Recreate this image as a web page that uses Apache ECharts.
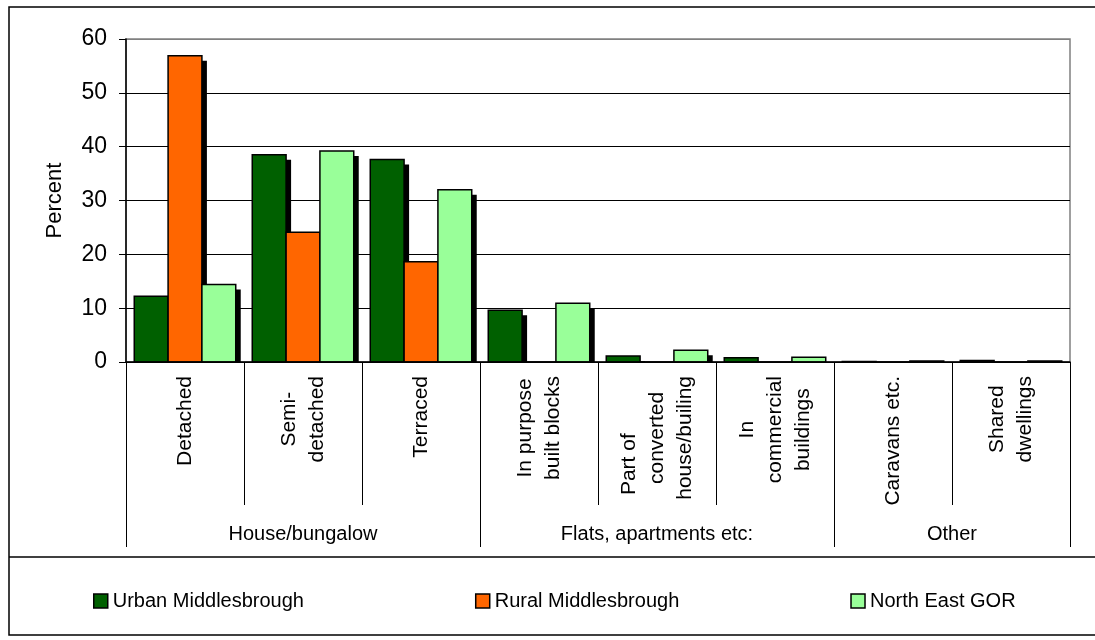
<!DOCTYPE html>
<html>
<head>
<meta charset="utf-8">
<script src="https://cdn.jsdelivr.net/npm/echarts@6/dist/echarts.min.js"></script>
<style>
html,body{margin:0;padding:0;background:#fff;}
#chart{width:1095px;height:640px;}
</style>
</head>
<body>
<div id="chart"></div>
<script>
// ---- data ----
const categories = ['Detached', 'Semi-\ndetached', 'Terraced', 'In purpose\nbuilt blocks',
  'Part of         \nconverted\nhouse/builing', 'In\ncommercial\nbuildings', 'Caravans etc.', 'Shared\ndwellings'];
const groupLabels = ['House/bungalow', 'Flats, apartments etc:', 'Other'];
const groupSpans = [3, 3, 2];
const seriesNames = ['Urban Middlesbrough', 'Rural Middlesbrough', 'North East GOR'];
const urbanValues = [12.2, 38.5, 37.6, 9.6, 1.1, 0.8, 0.1, 0.3];
const ruralValues = [56.9, 24.1, 18.6, 0, 0, 0, 0, 0];
const northEastValues = [14.4, 39.2, 32.0, 10.9, 2.2, 0.9, 0.2, 0.2];
const yTicks = [0, 10, 20, 30, 40, 50, 60];

// ---- group axis built from spans (half-category units) ----
const halfCount = groupSpans.reduce((a, b) => a + b, 0) * 2 + 1;
const groupAxisData = new Array(halfCount).fill('');
const groupBoundaries = [0];
let acc = 0;
groupSpans.forEach((s, i) => {
  groupAxisData[acc * 2 + s] = groupLabels[i];
  acc += s;
  groupBoundaries.push(acc * 2);
});

const FONT = "'Liberation Sans', Arial, sans-serif";
const colors = ['#006000', '#FF6600', '#99FF99'];
const values = [urbanValues, ruralValues, northEastValues];
const CATEGORY_GAP = 0.14;
const SHADOW = 5;

function makeRenderItem(seriesIdx, nSeries, color) {
  return function (params, api) {
    const idx = api.value(0), val = api.value(1);
    const top = api.coord([idx, val]);
    const base = api.coord([idx, 0]);
    const band = api.size([1, 0])[0];
    const bw = band * (1 - CATEGORY_GAP) / nSeries;
    const x0 = base[0] - bw * nSeries / 2 + seriesIdx * bw;
    const h = base[1] - top[1];
    const children = [];
    if (h > SHADOW) {
      children.push({
        type: 'rect',
        shape: { x: x0 + SHADOW, y: top[1] + SHADOW, width: bw, height: h - SHADOW },
        style: { fill: '#000' }
      });
    }
    children.push({
      type: 'rect',
      shape: { x: x0, y: top[1], width: bw, height: h },
      style: { fill: color, stroke: '#000', lineWidth: 1.5 }
    });
    return { type: 'group', children: children };
  };
}

const chart = echarts.init(document.getElementById('chart'));
chart.setOption({
  backgroundColor: '#fff',
  animation: false,
  textStyle: { fontFamily: FONT, color: '#000' },
  grid: {
    left: 126, top: 39, right: 25, bottom: 278,
    show: true, borderColor: '#808080', borderWidth: 1.5, backgroundColor: '#fff'
  },
  legend: {
    left: 88, top: 586, itemGap: 171,
    itemWidth: 14, itemHeight: 14,
    icon: 'rect',
    textStyle: { fontFamily: FONT, fontSize: 20, color: '#000' },
    itemStyle: { borderColor: '#000', borderWidth: 1.5 },
    data: seriesNames
  },
  xAxis: [
    {
      type: 'category', data: categories, gridIndex: 0, position: 'bottom', z: 10,
      axisLine: { lineStyle: { color: '#000', width: 1.5 } },
      axisTick: { show: true, interval: 0, length: 143, lineStyle: { color: '#000', width: 1 } },
      axisLabel: {
        interval: 0, rotate: 90, margin: 14, color: '#000',
        formatter: v => v.split('\n').map(l => '{a|' + l + '}').join('\n'),
        rich: { a: { align: 'center', fontSize: 21, lineHeight: 28, fontFamily: FONT, color: '#000' } }
      }
    },
    {
      type: 'category', data: groupAxisData, gridIndex: 0, position: 'bottom', boundaryGap: false, z: 10,
      axisLine: { show: false },
      axisTick: { show: true, length: 185, interval: (i) => groupBoundaries.indexOf(i) >= 0, lineStyle: { color: '#000', width: 1 } },
      axisLabel: { interval: (i, v) => v !== '', margin: 162, fontSize: 20, fontFamily: FONT, color: '#000' }
    }
  ],
  yAxis: {
    type: 'value', min: yTicks[0], max: yTicks[yTicks.length - 1], interval: yTicks[1] - yTicks[0],
    name: 'Percent', nameLocation: 'middle', nameRotate: 90, nameGap: 60,
    nameTextStyle: { fontSize: 22, fontFamily: FONT, color: '#000' },
    axisLine: { show: true, lineStyle: { color: '#000', width: 1.5 } },
    axisTick: { show: true, length: 7, lineStyle: { color: '#000' } },
    axisLabel: { fontSize: 23, fontFamily: FONT, color: '#000', margin: 19 },
    splitLine: { show: true, lineStyle: { color: ['#000', '#000', '#000', '#000', '#000', '#000', '#808080'], width: 1 } }
  },
  series: seriesNames.map((name, i) => ({
    name: name, type: 'custom', xAxisIndex: 0, yAxisIndex: 0,
    itemStyle: { color: colors[i], borderColor: '#000', borderWidth: 1.5 },
    encode: { x: 0, y: 1 },
    data: values[i].map((v, k) => [k, v]),
    renderItem: makeRenderItem(i, seriesNames.length, colors[i])
  })),
  graphic: [
    { type: 'rect', z: 20, silent: true, shape: { x: 9, y: 7, width: 1100, height: 628 }, style: { fill: 'none', stroke: '#000', lineWidth: 1.5 } },
    { type: 'line', z: 20, silent: true, shape: { x1: 9, y1: 557, x2: 1095, y2: 557 }, style: { stroke: '#000', lineWidth: 1.5 } }
  ]
});
</script>
</body>
</html>
